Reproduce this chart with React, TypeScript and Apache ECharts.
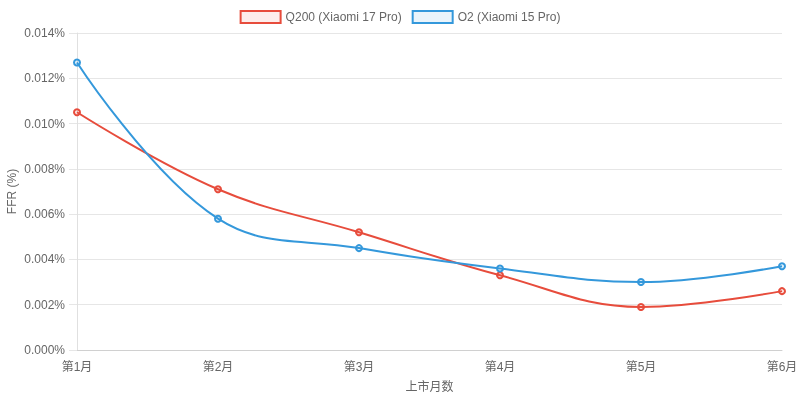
import React, { useEffect, useRef } from "react";
import * as echarts from "echarts";

const categories = ["第1月", "第2月", "第3月", "第4月", "第5月", "第6月"];
const q200Values = [0.0105, 0.0071, 0.0052, 0.0033, 0.0019, 0.0026];
const o2Values = [0.0127, 0.0058, 0.0045, 0.0036, 0.003, 0.0037];
const seriesNames = ["Q200 (Xiaomi 17 Pro)", "O2 (Xiaomi 15 Pro)"];

const FONT = "'Liberation Sans', Arial, 'Noto Sans CJK SC', sans-serif";

export default function App() {
  const ref = useRef<HTMLDivElement>(null);
  useEffect(() => {
    if (!ref.current) return;
    const chart = echarts.init(ref.current, undefined, { renderer: "svg" });
    chart.setOption({
      animation: false,
      textStyle: { fontFamily: FONT },
      legend: {
        top: 5,
        left: "center",
        icon: "rect",
        itemWidth: 40,
        itemHeight: 12,
        itemGap: 10,
        textStyle: { color: "#666", fontSize: 12, fontFamily: FONT },
        data: [
          {
            name: seriesNames[0],
            itemStyle: { color: "rgba(231,76,60,0.1)", borderColor: "#e74c3c", borderWidth: 2 },
          },
          {
            name: seriesNames[1],
            itemStyle: { color: "rgba(52,152,219,0.1)", borderColor: "#3498db", borderWidth: 2 },
          },
        ],
      },
      grid: {
        left: 77,
        right: 18,
        top: 33,
        bottom: 51,
        containLabel: false,
        outerBoundsMode: "none",
      },
      xAxis: {
        type: "category",
        data: categories,
        boundaryGap: false,
        name: "上市月数",
        nameLocation: "middle",
        nameGap: 31,
        nameMoveOverlap: false,
        nameTextStyle: { color: "#666", fontSize: 12, fontFamily: FONT },
        axisLine: { lineStyle: { color: "#d0d0d0" } },
        axisTick: { show: false },
        axisLabel: { color: "#666", fontSize: 12, margin: 11, fontFamily: FONT },
        splitLine: { show: false },
      },
      yAxis: {
        type: "value",
        min: 0,
        max: 0.014,
        interval: 0.002,
        name: "FFR (%)",
        nameLocation: "middle",
        nameGap: 59,
        nameMoveOverlap: false,
        nameTextStyle: { color: "#666", fontSize: 12, fontFamily: FONT },
        axisLine: { show: true, lineStyle: { color: "#e0e0e0" } },
        axisTick: { show: true, length: 8, lineStyle: { color: "#e6e6e6" } },
        axisLabel: {
          color: "#666",
          fontSize: 12,
          margin: 12,
          fontFamily: FONT,
          formatter: (v: number) => v.toFixed(3) + "%",
        },
        splitLine: { lineStyle: { color: "#e6e6e6" } },
      },
      series: [
        {
          name: seriesNames[0],
          type: "line",
          data: q200Values,
          smooth: 0.4,
          symbol: "circle",
          symbolSize: 6,
          lineStyle: { color: "#e74c3c", width: 2 },
          itemStyle: { color: "rgba(231,76,60,0.15)", borderColor: "#e74c3c", borderWidth: 2 },
        },
        {
          name: seriesNames[1],
          type: "line",
          data: o2Values,
          smooth: 0.4,
          symbol: "circle",
          symbolSize: 6,
          lineStyle: { color: "#3498db", width: 2 },
          itemStyle: { color: "rgba(52,152,219,0.15)", borderColor: "#3498db", borderWidth: 2 },
        },
      ],
    });
    return () => chart.dispose();
  }, []);
  return (
    <div
      ref={ref}
      style={{ position: "fixed", left: 0, top: 0, width: 800, height: 401 }}
    />
  );
}
